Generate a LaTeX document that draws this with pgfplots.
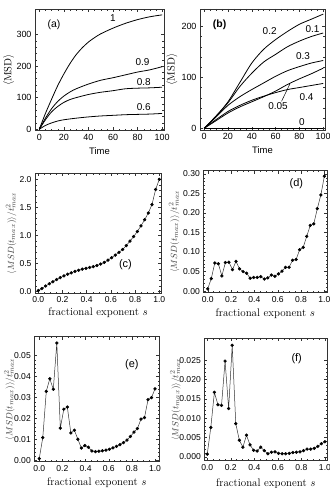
\documentclass[border=0pt]{standalone}
\usepackage{fontspec}
\usepackage{pgfplots}
\usepackage{pgfplotstable}
\pgfplotsset{compat=1.18}
\newfontfamily\sansf{Liberation Sans}

\pgfplotstableread{
s c d e f
0.0000 0.020 0.006 0.0010 0.0007
0.0303 0.055 0.032 0.0110 0.0076
0.0606 0.100 0.072 0.0330 0.0167
0.0909 0.140 0.070 0.0390 0.0135
0.1212 0.175 0.039 0.0340 0.0133
0.1515 0.215 0.073 0.0560 0.0248
0.1818 0.250 0.074 0.0155 0.0125
0.2121 0.280 0.055 0.0245 0.0289
0.2424 0.310 0.076 0.0255 0.0086
0.2727 0.335 0.057 0.0132 0.0043
0.3030 0.360 0.050 0.0145 0.0025
0.3333 0.380 0.046 0.0102 0.0056
0.3636 0.400 0.033 0.0060 0.0031
0.3939 0.415 0.035 0.0072 0.0017
0.4242 0.430 0.035 0.0064 0.0015
0.4545 0.445 0.037 0.0046 0.0025
0.4848 0.465 0.031 0.0043 0.0016
0.5152 0.490 0.034 0.0045 0.0008
0.5455 0.520 0.041 0.0047 0.0012
0.5758 0.560 0.038 0.0050 0.0013
0.6061 0.605 0.044 0.0054 0.0009
0.6364 0.650 0.051 0.0061 0.0008
0.6667 0.700 0.061 0.0068 0.0008
0.6970 0.750 0.061 0.0076 0.0009
0.7273 0.820 0.079 0.0086 0.0011
0.7576 0.900 0.081 0.0098 0.0012
0.7879 0.980 0.106 0.0115 0.0013
0.8182 1.070 0.112 0.0136 0.0016
0.8485 1.170 0.140 0.0153 0.0020
0.8788 1.280 0.168 0.0198 0.0020
0.9091 1.400 0.172 0.0205 0.0022
0.9394 1.550 0.211 0.0290 0.0027
0.9697 1.820 0.246 0.0300 0.0034
1.0000 2.000 0.294 0.0342 0.0039
}\sdata

\pgfplotsset{
  base/.style={scale only axis, anchor=south west,
    axis line style={black!80, line width=0.5pt},
    tick align=inside, tick style={black!80, line width=0.4pt},
    major tick length=3bp, minor tick length=1.6bp,
    /pgf/number format/assume math mode=true,
    tick label style={font=\sansf\fontsize{9}{10}\selectfont},
    scaled ticks=false},
  topstyle/.style={base, xmin=-3.5, xmax=101.5, xtick={0,20,...,100}, minor x tick num=3,
    minor y tick num=4,
    xlabel={\sansf\fontsize{9.5}{10}\selectfont Time},
    xlabel style={at={(axis description cs:0.5,-0.17)}, anchor=center},
    ylabel={\fontsize{10.5}{12}\selectfont$\langle$MSD$\rangle$},
    ylabel style={at={(axis description cs:-0.205,0.5)}, anchor=center}},
  botstyle/.style={base, xtick={0,0.2,...,1.0}, minor x tick num=3, minor y tick num=4,
    tick label style={font=\sansf\fontsize{8.6}{10}\selectfont},
    xticklabel style={/pgf/number format/.cd, fixed, fixed zerofill, precision=1},
    xlabel={\fontsize{11}{12}\selectfont fractional exponent $s$},
    ylabel={\fontsize{9.5}{10}\selectfont\color{black!75}$\langle MSD(t_{max})\rangle/t^2_{max}$}},
  cur/.style={black, line width=0.8pt, smooth},
  pts/.style={black!80, line width=0.5pt, mark=*, mark size=1.4pt, mark options={black}},
}

\begin{document}
\begin{tikzpicture}
\useasboundingbox (0,0) rectangle (330bp,488bp);

% (a)
\begin{axis}[topstyle, at={(35bp,357.5bp)}, width=129bp, height=121bp,
  ymin=-4, ymax=379, ytick={0,100,200,300}]
\addplot[cur] coordinates {(0,0) (5,50) (10,95) (15,138) (20,175) (25,208) (30,236) (35,258) (40,276) (45,290) (50,302) (60,320) (70,335) (80,347) (90,356) (100,362)};
\addplot[cur] coordinates {(0,0) (5,35) (10,65) (15,88) (20,105) (25,118) (30,128) (40,143) (50,155) (60,163) (70,172) (80,181) (90,188) (100,198)};
\addplot[cur] coordinates {(0,0) (5,30) (10,55) (15,72) (20,85) (25,94) (30,100) (40,110) (50,117) (60,122) (70,128) (80,130) (90,131) (100,133)};
\addplot[cur] coordinates {(0,0) (5,12) (10,20) (15,26) (20,30) (30,35) (40,39) (50,42) (60,44) (70,46) (80,47) (90,48) (100,50)};
\node[font=\sansf\fontsize{10.5}{11}\selectfont] at (axis cs:12,330) {(a)};
\node[font=\sansf\fontsize{10}{11}\selectfont] at (axis cs:60,352) {1};
\node[font=\sansf\fontsize{10}{11}\selectfont] at (axis cs:84,214) {0.9};
\node[font=\sansf\fontsize{10}{11}\selectfont] at (axis cs:85,150) {0.8};
\node[font=\sansf\fontsize{10}{11}\selectfont] at (axis cs:85,70) {0.6};
\end{axis}

% (b)
\begin{axis}[topstyle, at={(200bp,358bp)}, width=125bp, height=121bp,
  ymin=-3.3, ymax=234, ytick={0,100,200},
  ylabel style={at={(axis description cs:-0.225,0.5)}, anchor=center}]
\addplot[cur] coordinates {(0,0) (10,24) (20,52) (30,90) (40,128) (50,155) (60,174) (70,190) (80,204) (90,214) (100,224)};
\addplot[cur] coordinates {(0,0) (10,24) (20,50) (30,82) (40,108) (50,130) (60,145) (70,160) (80,171) (90,180) (100,187)};
\addplot[cur] coordinates {(0,0) (10,22) (20,45) (30,62) (40,76) (50,89) (60,102) (70,113) (80,121) (90,128) (100,133)};
\addplot[cur] coordinates {(0,0) (10,15) (20,30) (30,42) (40,52) (50,62) (60,73) (70,86) (80,97) (90,107) (100,118)};
\addplot[cur] coordinates {(0,0) (10,17) (20,33) (30,45) (40,55) (50,63) (60,70) (70,76) (80,80) (90,84) (100,88)};
\addplot[cur] coordinates {(0,0) (100,0)};
\draw[black, line width=0.5pt] (axis cs:65,53) -- (axis cs:72,87);
\node[font=\sansf\bfseries\fontsize{10.5}{11}\selectfont] at (axis cs:13,203) {(b)};
\node[font=\sansf\fontsize{10}{11}\selectfont] at (axis cs:55,190) {0.2};
\node[font=\sansf\fontsize{10}{11}\selectfont] at (axis cs:91,195) {0.1};
\node[font=\sansf\fontsize{10}{11}\selectfont] at (axis cs:83,142) {0.3};
\node[font=\sansf\fontsize{10}{11}\selectfont] at (axis cs:62,43) {0.05};
\node[font=\sansf\fontsize{10}{11}\selectfont] at (axis cs:86,62) {0.4};
\node[font=\sansf\fontsize{10}{11}\selectfont] at (axis cs:82,12) {0};
\end{axis}

% (c)
\begin{axis}[botstyle, at={(35bp,194.7bp)}, width=126bp, height=120bp,
  xmin=-0.027, xmax=1.014, ymin=-0.03, ymax=2.107, ytick={0,0.5,...,2.0},
  yticklabel style={/pgf/number format/.cd, fixed, fixed zerofill, precision=1},
  xlabel style={at={(axis description cs:0.5,-0.165)}, anchor=center},
  ylabel style={at={(axis description cs:-0.19,0.5)}, anchor=center}]
\addplot[pts] table[x=s, y=c] {\sdata};
\node[font=\sansf\fontsize{11}{12}\selectfont] at (axis cs:0.72,0.475) {(c)};
\end{axis}

% (d)
\begin{axis}[botstyle, at={(203.3bp,195.3bp)}, width=124bp, height=122bp,
  xmin=-0.038, xmax=1.025, ymin=-0.004, ymax=0.308, ytick={0,0.05,...,0.30},
  yticklabel style={/pgf/number format/.cd, fixed, fixed zerofill, precision=2},
  xlabel style={at={(axis description cs:0.5,-0.17)}, anchor=center},
  ylabel style={at={(axis description cs:-0.235,0.5)}, anchor=center}]
\addplot[pts] table[x=s, y=d] {\sdata};
\node[font=\sansf\fontsize{11}{12}\selectfont] at (axis cs:0.76,0.276) {(d)};
\end{axis}

% (e)
\begin{axis}[botstyle, at={(34.3bp,26.3bp)}, width=125bp, height=125bp,
  xmin=-0.043, xmax=1.037, ymin=-0.0005, ymax=0.059, ytick={0,0.01,...,0.05},
  yticklabel style={/pgf/number format/.cd, fixed, fixed zerofill, precision=2},
  xlabel style={at={(axis description cs:0.5,-0.17)}, anchor=center},
  ylabel style={at={(axis description cs:-0.2,0.5)}, anchor=center}]
\addplot[pts] table[x=s, y=e] {\sdata};
\node[font=\sansf\fontsize{11}{12}\selectfont] at (axis cs:0.80,0.0455) {(e)};
\end{axis}

% (f)
\begin{axis}[botstyle, at={(204.3bp,27.3bp)}, width=123bp, height=122.4bp,
  xmin=-0.025, xmax=1.02, ymin=-0.001, ymax=0.0307, ytick={0,0.005,0.010,0.015,0.020,0.025},
  yticklabel style={/pgf/number format/.cd, fixed, fixed zerofill, precision=3},
  xlabel style={at={(axis description cs:0.5,-0.185)}, anchor=center},
  ylabel style={at={(axis description cs:-0.235,0.5)}, anchor=center}]
\addplot[pts] table[x=s, y=f] {\sdata};
\node[font=\sansf\fontsize{11}{12}\selectfont] at (axis cs:0.76,0.0255) {(f)};
\end{axis}
\end{tikzpicture}
\end{document}
